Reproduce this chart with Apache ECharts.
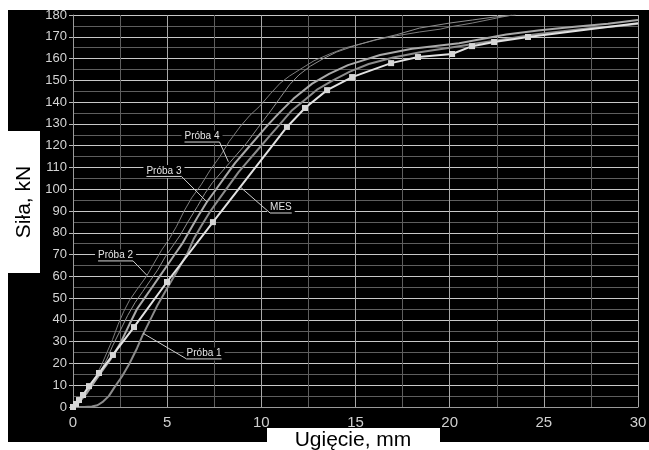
<!DOCTYPE html>
<html><head><meta charset="utf-8">
<script src="https://cdn.jsdelivr.net/npm/echarts/dist/echarts.min.js"></script>
<style>html,body{margin:0;padding:0;background:#fff}#c{width:649px;height:450px}</style>
</head><body><div id="c"></div>
<script>
// ---- data (Ugięcie mm, Siła kN) ----
const mesMarked = [[0,0],[0.16,1.4],[0.32,3.2],[0.53,5.5],[0.85,9.6],[1.38,15.6],[2.12,23.9],[3.24,36.7],[4.99,57.4],[7.43,84.9],[11.36,128.6],[12.32,137.3],[13.49,145.5],[14.82,151.5],[16.89,157.9],[18.32,160.7],[20.13,162.1],[21.19,165.7],[22.36,167.6],[24.16,169.9]];
const mesTail = [[27,173],[30,176.2]];
const proba1 = [[0,0],[0.6,0],[1.0,0.2],[1.3,0.8],[1.6,2.5],[1.9,5],[2.2,9],[2.6,14],[3.0,20],[3.4,27],[3.7,33],[4.1,40],[4.5,47],[4.9,53],[5.3,59],[5.7,65],[6.1,71],[6.4,77],[6.8,83],[7.3,90],[7.8,96],[8.3,102],[8.8,108],[9.3,113],[9.8,118],[10.4,124],[11.0,130],[11.6,136],[12.3,141],[13.0,146],[13.8,150],[14.7,154],[15.7,157.5],[17,160.5],[18.5,163],[20,165],[21.5,167],[23,169],[24.5,171],[26,172.5],[27.5,174],[29,175],[30,176]];
const proba2 = [[0,0],[0.3,3],[0.6,6],[0.9,10],[1.2,14],[1.5,19],[1.8,25],[2.1,31],[2.4,38],[2.7,44],[3.0,49],[3.4,54],[3.9,60],[4.3,66],[4.7,72],[5.1,77],[5.5,83],[5.9,90],[6.3,96],[6.8,102],[7.3,109],[7.8,115],[8.3,122],[8.9,129],[9.4,134],[9.9,138],[10.5,144],[11.0,148.7],[11.5,152],[12.05,155],[12.8,159],[13.6,162],[14.5,165],[15.4,167],[16.3,169],[17.2,170.5],[18.4,172.2],[19.5,173.5],[20,174.5],[21.2,176.3],[22.5,178.6],[23.3,180]];
const proba3 = [[0,0],[0.3,2],[0.7,6],[1.1,11],[1.5,16],[2.0,22],[2.5,29],[3.0,38],[3.4,45],[3.8,50],[4.2,55],[4.6,60],[5.0,65],[5.4,70],[5.8,75],[6.2,81],[6.6,87],[7.1,94],[7.6,100],[8.1,106],[8.6,112],[9.2,118],[9.8,124],[10.4,130],[11.0,135.5],[11.7,141.5],[12.7,148.5],[13.6,153],[14.6,157],[16.3,161.6],[18,164.5],[20.5,167],[23,171],[24.8,173],[26.5,174.5],[28.4,176],[30,177.7]];
const proba4 = [[0,0],[0.3,2.5],[0.6,5.5],[0.9,9],[1.2,13],[1.5,17],[1.8,22],[2.1,28],[2.5,35],[2.9,42],[3.3,48],[3.7,53],[4.1,58],[4.5,63],[4.9,69],[5.3,74],[5.7,79],[6.1,85],[6.6,92],[7.0,98],[7.4,103],[7.8,107],[8.2,111],[8.7,116],[9.2,121],[9.8,128],[10.5,136],[11.0,142],[11.5,148],[12,152.5],[12.6,156.5],[13.3,160],[14,163],[15,166],[16,168.5],[17.2,171],[18.4,174],[20,176.3],[21.2,177.7],[22.3,179],[23.5,180]];

// annotations
const annLabels = ['Próba 1','Próba 2','Próba 3','Próba 4','MES'];
const annAnchor = [[6.96,24.6],[2.26,69.6],[4.83,108.4],[6.85,124.2],[11.04,91.6]];
const annTarget = [[3.73,33.8],[3.91,60.6],[7.1,94.3],[8.25,112.6],[8.87,101.1]];

const FONT = '"Liberation Sans", Arial, sans-serif';
const chart = echarts.init(document.getElementById('c'));

function curve(name, data, color, width) {
  return {name, type:'line', data, showSymbol:false, symbol:'none', smooth:false,
    lineStyle:{color, width}, itemStyle:{color}, z:3, animation:false};
}
const mesData = mesMarked.map(p => ({value:p}))
  .concat(mesTail.map(p => ({value:p, symbol:'none'})));

chart.setOption({
  backgroundColor:'#000',
  animation:false,
  grid:{left:73, right:11, top:15, bottom:43, containLabel:false, outerBoundsMode:'none'},
  xAxis:{type:'value', min:0, max:30, interval:5,
    axisLine:{show:true, lineStyle:{color:'#9a9a9a'}},
    axisTick:{show:false},
    axisLabel:{color:'#cfcfcf', fontSize:15, fontFamily:FONT, margin:8},
    splitLine:{show:true, lineStyle:{color:'#a8a8a8', width:1}},
    minorTick:{show:false, splitNumber:2},
    minorSplitLine:{show:true, lineStyle:{color:'#5e5e5e', width:1}}
  },
  yAxis:{type:'value', min:0, max:180, interval:10,
    axisLine:{show:true, lineStyle:{color:'#9a9a9a'}},
    axisTick:{show:true, length:4, lineStyle:{color:'#b8b8b8'}},
    axisLabel:{color:'#d4d4d4', fontSize:13, fontFamily:FONT, margin:6},
    splitLine:{show:true, lineStyle:{color:'#c8c8c8', width:1}},
    minorTick:{show:false, splitNumber:2},
    minorSplitLine:{show:true, lineStyle:{color:'#5e5e5e', width:1}}
  },
  series:[
    curve('Próba 2', proba2, '#7e7e7e', 1),
    curve('Próba 4', proba4, '#8e8e8e', 1),
    curve('Próba 1', proba1, '#8c8c8c', 2),
    curve('Próba 3', proba3, '#a9a9a9', 2),
    {name:'MES', type:'line', data:mesData, symbol:'rect', symbolSize:6, showSymbol:true, showAllSymbol:true,
     lineStyle:{color:'#e2e2e2', width:2}, itemStyle:{color:'#d6d6d6'}, z:4, animation:false}
  ]
});

// measure text widths
const ctx = document.createElement('canvas').getContext('2d');
const labFont = '10px "Liberation Sans", Arial, sans-serif';
ctx.font = labFont;

const g = [
  {type:'rect', shape:{x:0,y:0,width:649,height:10}, style:{fill:'#fff'}, z:100},
  {type:'rect', shape:{x:0,y:0,width:8,height:450}, style:{fill:'#fff'}, z:100},
  {type:'rect', shape:{x:0,y:442,width:649,height:8}, style:{fill:'#fff'}, z:100},
  {type:'rect', shape:{x:8,y:131,width:32,height:142}, style:{fill:'#fff'}, z:100},
  {type:'rect', shape:{x:267,y:428,width:173,height:22}, style:{fill:'#fff'}, z:100},
  {type:'text', x:24, y:202, rotation:Math.PI/2, z:101,
   style:{text:'Siła, kN', fill:'#000', font:'21px "Liberation Sans", Arial, sans-serif', align:'center', verticalAlign:'middle'}},
  {type:'text', x:353, y:440, z:101,
   style:{text:'Ugięcie, mm', fill:'#000', font:'21px "Liberation Sans", Arial, sans-serif', align:'center', verticalAlign:'middle'}}
];
for (let i = 0; i < annLabels.length; i++) {
  const a = chart.convertToPixel({gridIndex:0}, annAnchor[i]);
  const t = chart.convertToPixel({gridIndex:0}, annTarget[i]);
  const w = ctx.measureText(annLabels[i]).width;
  const uy = a[1] + 5.5;
  const x0 = a[0] - w/2, x1 = a[0] + w/2;
  g.push({type:'rect', shape:{x:x0-3, y:a[1]-6, width:w+6, height:13}, style:{fill:'#000'}, z:50});
  g.push({type:'text', x:a[0], y:a[1], z:51,
    style:{text:annLabels[i], fill:'#e4e4e4', font:labFont, align:'center', verticalAlign:'middle'}});
  g.push({type:'line', shape:{x1:x0, y1:uy, x2:x1, y2:uy}, style:{stroke:'#d8d8d8', lineWidth:1}, z:51});
  const sx = t[0] < a[0] ? x0 : x1;
  g.push({type:'line', shape:{x1:sx, y1:uy, x2:t[0], y2:t[1]}, style:{stroke:'#cfcfcf', lineWidth:1}, z:51});
}
chart.setOption({graphic:g});
</script></body></html>
